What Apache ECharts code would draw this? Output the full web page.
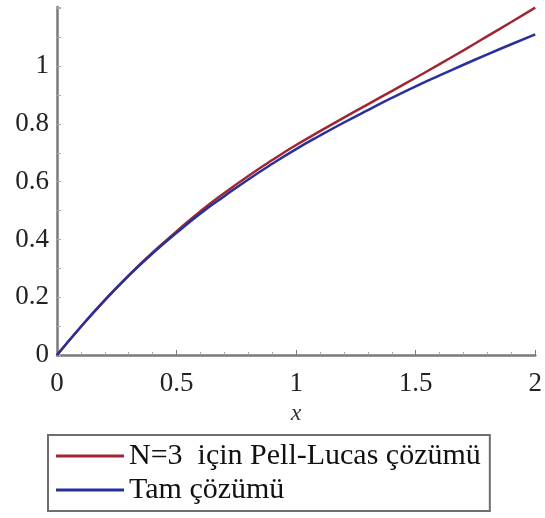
<!DOCTYPE html>
<html>
<head>
<meta charset="utf-8">
<script src="https://cdn.jsdelivr.net/npm/echarts@6/dist/echarts.min.js"></script>
<style>
  html, body { margin: 0; padding: 0; background: #fff; }
  #main { width: 545px; height: 518px; }
</style>
</head>
<body>
<div id="main"></div>
<script>
// x degerleri ve iki egri (resimden okunan yaklasik degerler)
const xValues = [0, 0.1, 0.2, 0.3, 0.4, 0.5, 0.6, 0.7, 0.8, 0.9, 1.0,
  1.1, 1.2, 1.3, 1.4, 1.5, 1.6, 1.7, 1.8, 1.9, 2.0]
const pellLucas = [0, 0.098, 0.19, 0.276, 0.355, 0.428, 0.498, 0.561, 0.62, 0.675, 0.727,
  0.775, 0.822, 0.868, 0.914, 0.96, 1.007, 1.055, 1.104, 1.153, 1.203]
const exact = [0, 0.098, 0.19, 0.275, 0.352, 0.423, 0.49, 0.55, 0.608, 0.662, 0.713,
  0.76, 0.805, 0.848, 0.89, 0.93, 0.968, 1.005, 1.041, 1.076, 1.11]
const seriesNames = ['N=3  için Pell-Lucas çözümü', 'Tam çözümü']
const xTicks = [0, 0.5, 1, 1.5, 2]
const yTicks = [0, 0.2, 0.4, 0.6, 0.8, 1]

const serif = 'Liberation Serif'
const axisGray = '#7a7a7a'

const toPairs = (ys) => xValues.map((x, i) => [x, ys[i]])

const chart = echarts.init(document.getElementById('main'))
const option = {
  animation: false,
  grid: { left: 57, right: 5, top: 7, bottom: 163 },
  legend: {
    orient: 'vertical',
    left: 48,
    top: 435,
    padding: [4, 9, 4, 8],
    itemGap: 0,
    icon: 'rect',
    itemWidth: 68,
    itemHeight: 3,
    borderColor: '#6e6e6e',
    borderWidth: 2,
    textStyle: { fontFamily: serif, fontSize: 30, color: '#111', lineHeight: 34 },
    data: seriesNames
  },
  xAxis: {
    type: 'value',
    min: 0,
    max: 2,
    interval: 0.5,
    name: 'x',
    nameLocation: 'middle',
    nameGap: 46,
    nameTextStyle: { fontFamily: serif, fontStyle: 'italic', fontSize: 24, color: '#333' },
    axisLine: { show: true, onZero: false, lineStyle: { color: axisGray, width: 2.5 } },
    axisTick: { show: true, inside: true, length: 5, lineStyle: { color: axisGray } },
    minorTick: { show: true, splitNumber: 5, length: 3, lineStyle: { color: '#aaa' } },
    splitLine: { show: false },
    axisLabel: {
      fontFamily: serif, fontSize: 27, color: '#222', margin: 15,
      formatter: (v) => (xTicks.indexOf(v) >= 0 ? String(v) : '')
    }
  },
  yAxis: {
    type: 'value',
    min: 0,
    max: 1.205,
    interval: 0.2,
    axisLine: { show: true, onZero: false, lineStyle: { color: axisGray, width: 2.5 } },
    axisTick: { show: true, inside: true, length: 4, lineStyle: { color: '#aaa' } },
    minorTick: { show: true, splitNumber: 2, length: 4, lineStyle: { color: '#aaa' } },
    splitLine: { show: false },
    axisLabel: {
      fontFamily: serif, fontSize: 27, color: '#222', margin: 8, showMaxLabel: false,
      formatter: (v) => (yTicks.some((t) => Math.abs(t - v) < 1e-9) ? String(+v.toFixed(1)) : '')
    }
  },
  series: [
    {
      name: seriesNames[0],
      type: 'line',
      smooth: true,
      symbol: 'none',
      color: '#a02633',
      lineStyle: { width: 2.5, color: '#a02633' },
      data: toPairs(pellLucas)
    },
    {
      name: seriesNames[1],
      type: 'line',
      smooth: true,
      symbol: 'none',
      color: '#27309c',
      lineStyle: { width: 2.5, color: '#27309c' },
      data: toPairs(exact)
    }
  ]
}
chart.setOption(option)
</script>
</body>
</html>
